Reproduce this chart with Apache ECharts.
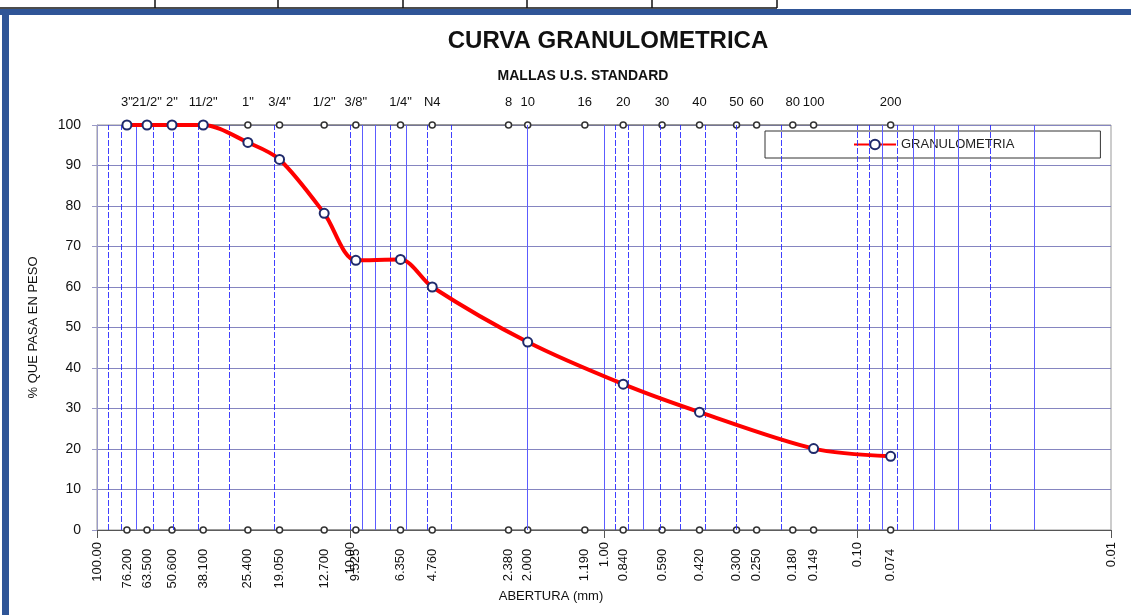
<!DOCTYPE html>
<html>
<head>
<meta charset="utf-8">
<script src="https://cdn.jsdelivr.net/npm/echarts@6/dist/echarts.min.js"></script>
<style>
html, body { margin: 0; padding: 0; background: #fff; }
#chart { width: 1131px; height: 615px; }
</style>
</head>
<body>
<div id="chart"></div>
<script>
// mallas (tamices) y aberturas en mm
var sieveNames = ['3"', '21/2"', '2"', '11/2"', '1"', '3/4"', '1/2"', '3/8"', '1/4"', 'N4',
    '8', '10', '16', '20', '30', '40', '50', '60', '80', '100', '200'];
var sieveOpenings = [76.2, 63.5, 50.6, 38.1, 25.4, 19.05, 12.7, 9.525, 6.35, 4.76,
    2.38, 2.0, 1.19, 0.84, 0.59, 0.42, 0.3, 0.25, 0.18, 0.149, 0.074];

// curva granulometrica: abertura vs % que pasa
var curveOpenings = [76.2, 63.5, 50.6, 38.1, 25.4, 19.05, 12.7, 9.525, 6.35, 4.76, 2.0, 0.84, 0.42, 0.149, 0.074];
var curvePassing = [100, 100, 100, 100, 95.7, 91.5, 78.2, 66.6, 66.8, 60.0, 46.4, 36.0, 29.1, 20.1, 18.2];

// lineas verticales de la cuadricula logaritmica
var gridDashed = [90, 80, 60, 50, 40, 30, 20, 10, 7, 5, 4, 0.9, 0.8, 0.6, 0.5, 0.4, 0.3, 0.2, 0.1, 0.09, 0.07, 0.03];
var gridSolid = [70, 9, 8, 6, 2, 1, 0.7, 0.08, 0.06, 0.05, 0.04, 0.02];

var FONT = 'Liberation Sans, Arial, sans-serif';

var chart = echarts.init(document.getElementById('chart'));

function gridSeries(name, values, style) {
    return {
        name: name,
        type: 'line',
        data: [],
        z: 1,
        color: style.color,
        markLine: {
            silent: true, symbol: ['none', 'none'],
            label: {show: false},
            lineStyle: style,
            data: values.map(function (v) { return {xAxis: v}; })
        }
    };
}

var option = {
    backgroundColor: '#fff',
    animation: false,
    title: [{
        text: 'CURVA GRANULOMETRICA',
        left: 603, top: 24, textAlign: 'center',
        textStyle: {fontFamily: FONT, fontSize: 24, fontWeight: 'bold', color: '#111'}
    }, {
        text: 'MALLAS U.S. STANDARD',
        left: 578, top: 64, textAlign: 'center',
        textStyle: {fontFamily: FONT, fontSize: 14, fontWeight: 'bold', color: '#111'}
    }],
    legend: {
        left: 765, top: 131,
        padding: [7, 86, 7, 88],
        borderColor: '#333', borderWidth: 1,
        backgroundColor: '#fff',
        itemWidth: 42, itemHeight: 12, itemGap: 5,
        data: ['GRANULOMETRIA'],
        textStyle: {fontFamily: FONT, fontSize: 13, color: '#222'}
    },
    grid: {
        left: 97, right: 20, top: 125, bottom: 85,
        show: true, borderColor: '#999', borderWidth: 1,
        outerBoundsMode: 'none'
    },
    xAxis: {
        type: 'log', logBase: 10,
        min: 0.01, max: 100, inverse: true,
        name: 'ABERTURA (mm)',
        nameLocation: 'middle', nameGap: 52,
        nameTextStyle: {fontFamily: FONT, fontSize: 13, color: '#111', padding: [0, 106, 0, 0]},
        axisLine: {lineStyle: {color: '#555', width: 1}},
        axisTick: {show: true, length: 8, lineStyle: {color: '#555'}},
        axisLabel: {
            rotate: 90, margin: 12,
            fontFamily: FONT, fontSize: 13, color: '#111',
            formatter: function (v) { return v.toFixed(2); }
        },
        splitLine: {show: false},
        minorSplitLine: {show: false}
    },
    yAxis: {
        type: 'value', min: 0, max: 100, interval: 10,
        name: '% QUE PASA EN PESO',
        nameLocation: 'middle', nameGap: 57,
        nameTextStyle: {fontFamily: FONT, fontSize: 13, color: '#111'},
        axisLine: {show: true, lineStyle: {color: '#9a9ac8'}},
        axisTick: {show: true, length: 5, lineStyle: {color: '#9a9ac8'}},
        axisLabel: {margin: 16, fontFamily: FONT, fontSize: 14, color: '#111'},
        splitLine: {lineStyle: {color: '#8585c0', width: 1}}
    },
    series: [
        gridSeries('grid_dashed', gridDashed, {color: '#2b2bff', width: 1, type: [6, 2], opacity: 0.9}),
        gridSeries('grid_solid', gridSolid, {color: '#5c5cff', width: 1, type: 'solid'}),
    {
        name: 'mallas_base',
        type: 'line',
        clip: false,
        z: 2,
        data: sieveOpenings.map(function (v) { return [v, 0]; }),
        symbol: 'circle', symbolSize: 6,
        itemStyle: {color: '#fff', borderColor: '#333', borderWidth: 1.5},
        lineStyle: {color: '#666', width: 1},
        label: {
            show: true, position: 'bottom', distance: 15,
            rotate: 90, align: 'right', verticalAlign: 'middle',
            fontFamily: FONT, fontSize: 13, color: '#111',
            formatter: function (p) { return p.value[0].toFixed(3); }
        }
    }, {
        name: 'mallas_top',
        type: 'line',
        clip: false,
        z: 3,
        data: sieveOpenings.map(function (v) { return [v, 100]; }),
        symbol: 'circle', symbolSize: 6,
        itemStyle: {color: '#fff', borderColor: '#333', borderWidth: 1.5},
        lineStyle: {color: '#666', width: 1},
        label: {
            show: true, position: 'top', distance: 12,
            fontFamily: FONT, fontSize: 13, color: '#111',
            formatter: function (p) { return sieveNames[p.dataIndex]; }
        }
    }, {
        name: 'GRANULOMETRIA',
        type: 'line',
        clip: false,
        z: 5,
        smooth: 0.3,
        data: curveOpenings.map(function (v, i) { return [v, curvePassing[i]]; }),
        symbol: 'circle', symbolSize: 9,
        itemStyle: {color: '#fff', borderColor: '#1f2a6b', borderWidth: 2},
        lineStyle: {color: '#ff0000', width: 4}
    }],
    graphic: [
        {type: 'rect', shape: {x: 0, y: 0, width: 1131, height: 8}, style: {fill: '#fff'}},
        {type: 'line', shape: {x1: 0, y1: 8, x2: 777, y2: 8}, style: {stroke: '#111', lineWidth: 1.5}},
        {type: 'line', shape: {x1: 155, y1: 0, x2: 155, y2: 8}, style: {stroke: '#111', lineWidth: 1.5}},
        {type: 'line', shape: {x1: 278, y1: 0, x2: 278, y2: 8}, style: {stroke: '#111', lineWidth: 1.5}},
        {type: 'line', shape: {x1: 403, y1: 0, x2: 403, y2: 8}, style: {stroke: '#111', lineWidth: 1.5}},
        {type: 'line', shape: {x1: 527, y1: 0, x2: 527, y2: 8}, style: {stroke: '#111', lineWidth: 1.5}},
        {type: 'line', shape: {x1: 652, y1: 0, x2: 652, y2: 8}, style: {stroke: '#111', lineWidth: 1.5}},
        {type: 'line', shape: {x1: 777, y1: 0, x2: 777, y2: 8}, style: {stroke: '#111', lineWidth: 1.5}},
        {type: 'rect', shape: {x: 0, y: 9, width: 1131, height: 6}, style: {fill: '#2f5597'}},
        {type: 'rect', shape: {x: 2, y: 9, width: 7, height: 606}, style: {fill: '#2f5597'}}
    ]
};

chart.setOption(option);
</script>
</body>
</html>
